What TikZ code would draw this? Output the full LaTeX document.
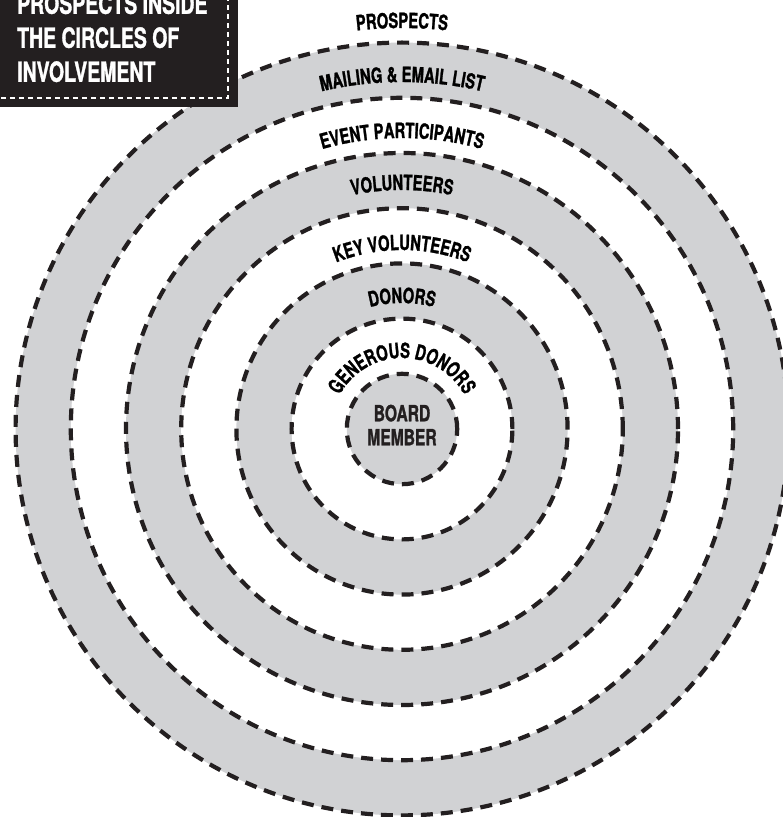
\documentclass[tikz,border=0pt]{standalone}
\usepackage{fontspec}
\newfontfamily\condfont[FakeStretch=0.7, FakeBold=1.2]{TeX Gyre Heros} % 窄体粗体无衬线字体
\usetikzlibrary{
  decorations.text, % 沿圆弧排字
  positioning       % 节点相对定位
}
\definecolor{inkblack}{RGB}{35,31,32}   % 印刷黑
\definecolor{ringgray}{RGB}{209,210,212} % 圆环浅灰
\newcommand{\ringfont}{\fontsize{21}{22}\selectfont\condfont\bfseries}    % 圆环标签字体
\newcommand{\boardfont}{\fontsize{22.3}{24}\selectfont\condfont\bfseries} % 中心文字字体
\newcommand{\titlefont}{\fontsize{27.8}{34}\selectfont\condfont\bfseries} % 标题字体

\begin{document}
\begin{tikzpicture}[x=1pt, y=1pt,
  ring/.style={draw=inkblack, line width=4.2pt, dash pattern=on 12pt off 8pt}, % 虚线圆
  ringlabel/.style={decorate, decoration={text along path, text align=center}}  % 弧形标签
]
  \useasboundingbox (-402,-388) rectangle (381,429); % 画布大小与原图一致
  \coordinate (O) at (0,0); % 圆心

  % 同心圆：由外向内，灰白交替
  \draw[ring, fill=ringgray] (O) circle[radius=386.4pt]; % 邮件名单
  \draw[ring, fill=white]    (O) circle[radius=331.2pt]; % 活动参与者
  \draw[ring, fill=ringgray] (O) circle[radius=276pt];   % 志愿者
  \draw[ring, fill=white]    (O) circle[radius=220.8pt]; % 核心志愿者
  \draw[ring, fill=ringgray] (O) circle[radius=165.6pt]; % 捐赠者
  \draw[ring, fill=white]    (O) circle[radius=110.4pt]; % 大额捐赠者
  \draw[ring, fill=ringgray] (O) circle[radius=55.2pt];  % 理事

  % 弧形标签
  \path[ringlabel, decoration={text={|\ringfont|PROSPECTS}}] (180:401pt) arc[start angle=180, end angle=0, radius=401pt];
  \path[ringlabel, decoration={text={|\ringfont|MAILING {\&} EMAIL LIST}}] (180:347pt) arc[start angle=180, end angle=0, radius=347pt];
  \path[ringlabel, decoration={text={|\ringfont|EVENT PARTICIPANTS}}] (180:291pt) arc[start angle=180, end angle=0, radius=291pt];
  \path[ringlabel, decoration={text={|\ringfont|VOLUNTEERS}}] (180:239pt) arc[start angle=180, end angle=0, radius=239pt];
  \path[ringlabel, decoration={text={|\ringfont|KEY VOLUNTEERS}}] (180:179pt) arc[start angle=180, end angle=0, radius=179pt];
  \path[ringlabel, decoration={text={|\ringfont|DONORS}}] (180:126pt) arc[start angle=180, end angle=0, radius=126pt];
  \path[ringlabel, decoration={text={|\ringfont|GENEROUS DONORS}}] (180:71pt) arc[start angle=180, end angle=0, radius=71pt];

  % 中心文字
  \node[font=\boardfont, text=inkblack, align=center, inner sep=0pt] (board) at (0,4) {BOARD\\MEMBER};

  % 左上角标题框
  \fill[inkblack] (-410,322) rectangle (-164,440); % 黑底
  \draw[white, line width=1.6pt, dash pattern=on 5pt off 4pt] (-410,331) -- (-174,331) -- (-174,440); % 白色虚线边
  \node[font=\titlefont, text=white, align=left, inner sep=0pt, anchor=north west] (title) at (-385,436) {PROSPECTS INSIDE\\THE CIRCLES OF\\INVOLVEMENT};
\end{tikzpicture}
\end{document}
